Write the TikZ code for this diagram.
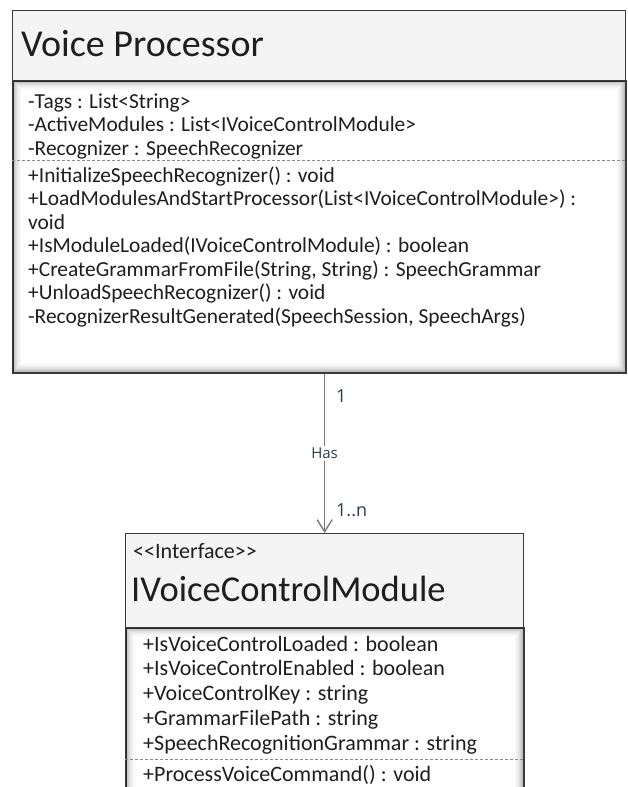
\documentclass[tikz,border=0pt]{standalone}
\usepackage{fontspec}
\setmainfont{Carlito}
\newfontfamily\lblfont{Open Sans}
\usetikzlibrary{arrows.meta}

\definecolor{hdrfill}{HTML}{F4F4F4}
\definecolor{edge}{HTML}{3A3A3A}
\definecolor{ink}{HTML}{1E1E1E}
\definecolor{wire}{HTML}{7A7A7A}
\definecolor{lbl}{HTML}{2F3A4A}
\definecolor{sep}{HTML}{8A8A8A}

\tikzset{
  hdr/.style={draw=edge, line width=1.2pt, fill=hdrfill, inner sep=0pt, anchor=north west},
  bodybox/.style={draw=edge, line width=1.8pt, fill=white, inner sep=0pt, anchor=north west},
  member/.style={anchor=mid west, inner sep=0pt, text=ink, font=\fontsize{21.4}{25}\selectfont},
  wmember/.style={anchor=mid west, inner sep=0pt, text=ink, font=\fontsize{22}{26}\selectfont},
  classname/.style={anchor=mid west, inner sep=0pt, text=ink, font=\fontsize{38}{44}\selectfont},
  ifname/.style={anchor=mid west, inner sep=0pt, text=ink, font=\fontsize{36.5}{42}\selectfont},
  stereo/.style={anchor=mid west, inner sep=0pt, text=ink, font=\fontsize{22}{26}\selectfont},
  separator/.style={draw=sep, line width=0.9pt, dash pattern=on 3pt off 2pt},
  assoc/.style={draw=wire, line width=1.6pt, -{Straight Barb[length=12pt, width=15pt, line width=1.4pt]}},
  mult/.style={anchor=mid west, inner sep=0pt, text=lbl, font=\lblfont\fontsize{18}{21}\selectfont},
  rolename/.style={fill=white, inner sep=2pt, text=lbl, font=\lblfont\fontsize{15}{18}\selectfont},
}

\begin{document}
\begin{tikzpicture}[x=1pt, y=-1pt]
  \useasboundingbox (0,0) rectangle (627,787);
  \clip (0,0) rectangle (627,787);

  % ---------------- Voice Processor class ----------------
  \node[bodybox, minimum width=613pt, minimum height=292pt] (vpBody) at (12,80) {};
  % soft inner shadow along the compartment border
  \foreach \i in {1,...,10}{
    \pgfmathsetmacro{\op}{0.32*(1-\i/11)^2}
    \draw[black, opacity=\op, line width=1pt] (12+\i,80+\i) rectangle (625-\i,372-\i);
  }
  \node[hdr, minimum width=613pt, minimum height=70pt] (vpHead) at (12,10) {};
  \node[classname] (vpName) at (21,54) {Voice Processor};

  \node[member] (a1) at (28,106)   {-Tags : List<String>};
  \node[member] (a2) at (28,129.5) {-ActiveModules : List<IVoiceControlModule>};
  \node[member] (a3) at (28,153)   {-Recognizer : SpeechRecognizer};
  \draw[separator] (vpBody.west |- 0,160) -- (vpBody.east |- 0,160);
  \node[member] (m1) at (28,180)   {+InitializeSpeechRecognizer() : void};
  \node[member] (m2) at (28,203.5) {+LoadModulesAndStartProcessor(List<IVoiceControlModule>) :};
  \node[member] (m3) at (28,227)   {void};
  \node[member] (m4) at (28,250.5) {+IsModuleLoaded(IVoiceControlModule) : boolean};
  \node[member] (m5) at (28,274)   {+CreateGrammarFromFile(String, String) : SpeechGrammar};
  \node[member] (m6) at (28,297.5) {+UnloadSpeechRecognizer() : void};
  \node[member] (m7) at (28,321)   {-RecognizerResultGenerated(SpeechSession, SpeechArgs)};

  % ---------------- IVoiceControlModule interface ----------------
  \node[bodybox, minimum width=398pt, minimum height=200pt] (imBody) at (125,627) {};
  \foreach \i in {1,...,10}{
    \pgfmathsetmacro{\op}{0.32*(1-\i/11)^2}
    \draw[black, opacity=\op, line width=1pt] (125+\i,627+\i) rectangle (523-\i,827-\i);
  }
  \node[hdr, minimum width=398pt, minimum height=94pt] (imHead) at (125,533) {};
  \node[stereo] (imStereo) at (133,556) {<\kern0pt<Interface>\kern0pt>};
  \node[ifname] (imName) at (131,599) {IVoiceControlModule};

  \node[wmember] (b1) at (143,649) {+IsVoiceControlLoaded : boolean};
  \node[wmember] (b2) at (143,673.5) {+IsVoiceControlEnabled : boolean};
  \node[wmember] (b3) at (143,698.5) {+VoiceControlKey : string};
  \node[wmember] (b4) at (143,723.5) {+GrammarFilePath : string};
  \node[wmember] (b5) at (143,748.5) {+SpeechRecognitionGrammar : string};
  \draw[separator] (imBody.west |- 0,759) -- (imBody.east |- 0,759);
  \node[wmember] (p1) at (143,779) {+ProcessVoiceCommand() : void};

  % ---------------- association ----------------
  \draw[assoc] (imHead.north |- vpBody.south) -- node[rolename, pos=0.5] (has) {Has} (imHead.north);
  \node[mult] (mTop) at (336,400) {1};
  \node[mult] (mBot) at (336,514) {1..n};
\end{tikzpicture}
\end{document}
